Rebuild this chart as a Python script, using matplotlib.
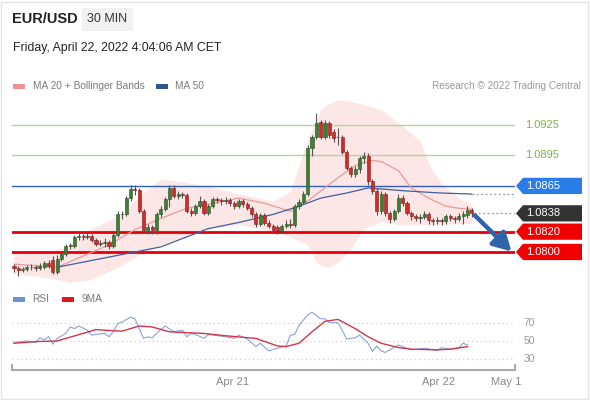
import matplotlib
matplotlib.use("Agg")
import matplotlib.pyplot as plt
from matplotlib.patches import Polygon, Rectangle
import numpy as np

plt.rcParams['font.family'] = ['Liberation Sans', 'DejaVu Sans']

# --- candles (30 min EUR/USD) ---
opens = [1.0786, 1.0784, 1.0782, 1.0783, 1.0785, 1.0785, 1.0784, 1.0785, 1.0789, 1.0792,
         1.0780, 1.0793, 1.0798, 1.0806, 1.0806, 1.0815, 1.0816, 1.0815, 1.0816, 1.0812,
         1.0808, 1.0809, 1.0810, 1.0806, 1.0817, 1.0837, 1.0837, 1.0853, 1.0862, 1.0861,
         1.0840, 1.0822, 1.0825, 1.0822, 1.0837, 1.0842, 1.0852, 1.0863, 1.0855, 1.0857,
         1.0856, 1.0840, 1.0838, 1.0845, 1.0850, 1.0838, 1.0845, 1.0852, 1.0851, 1.0850,
         1.0851, 1.0848, 1.0845, 1.0850, 1.0847, 1.0843, 1.0837, 1.0828, 1.0836, 1.0829,
         1.0826, 1.0825, 1.0821, 1.0826, 1.0828, 1.0827, 1.0845, 1.0849, 1.0857, 1.0902,
         1.0913, 1.0928, 1.0913, 1.0927, 1.0918, 1.0913, 1.0913, 1.0898, 1.0883, 1.0877,
         1.0882, 1.0892, 1.0894, 1.0870, 1.0860, 1.0840, 1.0857, 1.0838, 1.0832, 1.0840,
         1.0853, 1.0848, 1.0838, 1.0835, 1.0833, 1.0834, 1.0837, 1.0831, 1.0830, 1.0831,
         1.0830, 1.0835, 1.0833, 1.0832, 1.0835, 1.0836, 1.0841]
closes = [1.0784, 1.0782, 1.0783, 1.0785, 1.0785, 1.0784, 1.0786, 1.0789, 1.0786, 1.0780,
          1.0793, 1.0798, 1.0806, 1.0806, 1.0815, 1.0816, 1.0815, 1.0816, 1.0812, 1.0808,
          1.0809, 1.0810, 1.0806, 1.0817, 1.0837, 1.0837, 1.0853, 1.0862, 1.0861, 1.0840,
          1.0822, 1.0825, 1.0822, 1.0837, 1.0842, 1.0852, 1.0863, 1.0855, 1.0857, 1.0856,
          1.0840, 1.0838, 1.0845, 1.0850, 1.0838, 1.0845, 1.0852, 1.0851, 1.0850, 1.0851,
          1.0848, 1.0845, 1.0850, 1.0847, 1.0843, 1.0837, 1.0828, 1.0836, 1.0829, 1.0826,
          1.0822, 1.0821, 1.0826, 1.0828, 1.0827, 1.0845, 1.0849, 1.0857, 1.0902, 1.0913,
          1.0927, 1.0913, 1.0927, 1.0915, 1.0912, 1.0913, 1.0898, 1.0883, 1.0877, 1.0882,
          1.0892, 1.0894, 1.0870, 1.0860, 1.0840, 1.0857, 1.0838, 1.0832, 1.0840, 1.0853,
          1.0848, 1.0838, 1.0835, 1.0833, 1.0834, 1.0837, 1.0831, 1.0830, 1.0831, 1.0830,
          1.0835, 1.0833, 1.0832, 1.0835, 1.0837, 1.0841, 1.0838]
highs = [1.0788, 1.0786, 1.0785, 1.0787, 1.0788, 1.0787, 1.0789, 1.0791, 1.0792, 1.0796,
         1.0797, 1.0800, 1.0808, 1.0809, 1.0817, 1.0820, 1.0818, 1.0819, 1.0818, 1.0814,
         1.0812, 1.0814, 1.0812, 1.0819, 1.0840, 1.0840, 1.0855, 1.0866, 1.0866, 1.0863,
         1.0842, 1.0828, 1.0827, 1.0839, 1.0845, 1.0854, 1.0866, 1.0866, 1.0860, 1.0859,
         1.0858, 1.0843, 1.0847, 1.0855, 1.0852, 1.0847, 1.0854, 1.0854, 1.0853, 1.0854,
         1.0853, 1.0850, 1.0852, 1.0852, 1.0849, 1.0845, 1.0839, 1.0838, 1.0838, 1.0831,
         1.0828, 1.0827, 1.0828, 1.0831, 1.0832, 1.0847, 1.0852, 1.0860, 1.0905, 1.0915,
         1.0937, 1.0930, 1.0930, 1.0929, 1.0921, 1.0922, 1.0915, 1.0900, 1.0885, 1.0885,
         1.0894, 1.0898, 1.0897, 1.0872, 1.0863, 1.0860, 1.0859, 1.0840, 1.0842, 1.0857,
         1.0856, 1.0850, 1.0840, 1.0837, 1.0837, 1.0840, 1.0839, 1.0833, 1.0834, 1.0833,
         1.0837, 1.0837, 1.0835, 1.0838, 1.0840, 1.0845, 1.0843]
lows = [1.0780, 1.0776, 1.0780, 1.0781, 1.0782, 1.0781, 1.0782, 1.0783, 1.0784, 1.0778,
        1.0778, 1.0791, 1.0796, 1.0803, 1.0804, 1.0812, 1.0812, 1.0813, 1.0810, 1.0806,
        1.0806, 1.0805, 1.0803, 1.0804, 1.0815, 1.0832, 1.0835, 1.0850, 1.0856, 1.0838,
        1.0820, 1.0818, 1.0818, 1.0818, 1.0834, 1.0840, 1.0844, 1.0853, 1.0852, 1.0853,
        1.0838, 1.0835, 1.0836, 1.0843, 1.0836, 1.0836, 1.0843, 1.0848, 1.0846, 1.0847,
        1.0845, 1.0842, 1.0843, 1.0844, 1.0841, 1.0834, 1.0825, 1.0826, 1.0827, 1.0824,
        1.0819, 1.0818, 1.0819, 1.0824, 1.0824, 1.0825, 1.0842, 1.0847, 1.0855, 1.0894,
        1.0911, 1.0911, 1.0911, 1.0912, 1.0908, 1.0905, 1.0896, 1.0881, 1.0874, 1.0874,
        1.0878, 1.0888, 1.0866, 1.0857, 1.0836, 1.0837, 1.0835, 1.0829, 1.0830, 1.0838,
        1.0845, 1.0836, 1.0831, 1.0830, 1.0829, 1.0832, 1.0828, 1.0827, 1.0828, 1.0827,
        1.0828, 1.0830, 1.0829, 1.0830, 1.0828, 1.0833, 1.0834]

# --- indicators, sampled at candle indices ---
bb_idx = [0, 6, 11, 13, 18, 25, 29, 34, 45, 52, 60, 64, 68, 70, 71, 73, 75, 78, 79, 81, 85, 89, 94, 96, 99, 103, 106]
bb_upper = [1.0798, 1.0800, 1.0803, 1.0808, 1.0823, 1.0837, 1.0855, 1.0872, 1.0865, 1.0857, 1.0850, 1.0860,
            1.0910, 1.0930, 1.0940, 1.0946, 1.0950, 1.0948, 1.0947, 1.0945, 1.0940, 1.0927, 1.0910,
            1.0887, 1.0867, 1.0853, 1.0847]
bb_lower = [1.0778, 1.0776, 1.0772, 1.0770, 1.0773, 1.0787, 1.0797, 1.0807, 1.0823, 1.0827, 1.0820, 1.0815,
            1.0807, 1.0790, 1.0787, 1.0785, 1.0790, 1.0803, 1.0810, 1.0823, 1.0830, 1.0827, 1.0827,
            1.0827, 1.0827, 1.0828, 1.0828]

ma20_idx = [0, 10, 22, 28, 34, 40, 45, 52, 58, 64, 68, 71, 75, 79, 83, 85, 89, 92, 96, 100, 103, 106]
ma20 = [1.0788, 1.0785, 1.0807, 1.0822, 1.0833, 1.0843, 1.0847, 1.0853, 1.0848, 1.0840, 1.0850, 1.0860,
        1.0873, 1.0885, 1.0890, 1.0889, 1.0880, 1.0863, 1.0853, 1.0845, 1.0843, 1.0842]

ma50_idx = [10, 22, 34, 45, 52, 60, 66, 71, 77, 82, 85, 91, 99, 106]
ma50 = [1.0785, 1.0795, 1.0805, 1.0823, 1.0829, 1.0837, 1.0845, 1.0853, 1.0858, 1.0863, 1.0862, 1.0860,
        1.0858, 1.0857]

rsi_idx = [0, 3, 5, 6, 7, 8, 9, 10, 12, 13, 14, 15, 17, 18, 19, 21, 22, 23, 24, 25, 27, 28, 29, 30, 31, 32,
           33, 35, 37, 39, 40, 41, 42, 44, 45, 47, 49, 51, 52, 54, 56, 57, 59, 61, 63, 64, 65, 66, 68, 69,
           71, 72, 73, 75, 76, 77, 79, 80, 82, 83, 84, 85, 86, 89, 91, 92, 95, 98, 99, 101, 103, 104, 105]
rsi = [48.5, 50, 48.5, 53.6, 51, 55, 46.4, 52.9, 58.4, 65.6, 63.8, 66.7, 62, 56.5, 57.3, 58.4, 54.7, 60.2,
       69.3, 71, 76.5, 74.7, 63.8, 52.9, 54.7, 53.6, 58.4, 66.7, 60.2, 62, 54.7, 58.4, 57.3, 52.9, 57.3,
       56, 54.7, 52.9, 56.5, 52.2, 43.8, 47.5, 39, 42, 44.5, 56.5, 57.3, 67.5, 79, 82, 74.7, 74.7, 70.4,
       70.4, 62, 52.2, 53.6, 56.5, 47.5, 38.4, 44.5, 39, 37.3, 45.6, 42, 40.2, 42, 39.5, 42.7, 40.9, 42.7,
       47.5, 45.6]
ma9_idx = [0, 5, 10, 12, 16, 19, 21, 25, 29, 32, 36, 44, 49, 56, 61, 63, 66, 69, 72, 75, 79, 82, 85, 89,
           92, 98, 101, 105]
ma9 = [47.5, 49.3, 50, 52.9, 58.4, 62.7, 62, 60.9, 66.7, 65.6, 60.2, 58.4, 55.8, 52.9, 44.5, 43.8, 47.5,
       60.2, 71.8, 74, 63.8, 54.7, 47.5, 42.7, 40.9, 40.2, 40.9, 43.8]

levels_green = [1.0925, 1.0895]
level_blue = 1.0865
levels_red = [1.0820, 1.0800]
last_price = 1.0838
date_pos = [50.7, 98.4, 114]
date_labels = ["Apr 21", "Apr 22", "May 1"]
rsi_grid = [70, 50, 30]

W, H = 590, 400
PMIN, PMAX = 1.07675, 1.09594
fig = plt.figure(figsize=(W / 100, H / 100), dpi=100)


def fr(x0, y0, x1, y1):
    # pixel box (top-left origin) -> figure fraction rect
    return [x0 / W, 1 - y1 / H, (x1 - x0) / W, (y1 - y0) / H]


fig.patches.append(Rectangle((1 / W, 1 / H), 587 / W, 397 / H, transform=fig.transFigure,
                             fill=False, ec="#e4e4e4", lw=1))

# header
fig.text(12 / W, 1 - 19 / H, "EUR/USD", fontsize=10.5, fontweight="bold", color="#222", va="center")
fig.patches.append(Rectangle((82 / W, 1 - 31 / H), 51 / W, 23 / H, transform=fig.transFigure,
                             fc="#f1f1f1", ec="none"))
fig.text(107 / W, 1 - 19 / H, "30 MIN", fontsize=9, color="#333", va="center", ha="center")
fig.text(13 / W, 1 - 48 / H, "Friday, April 22, 2022 4:04:06 AM CET", fontsize=8.8, color="#222", va="center")

# legends
fig.patches.append(Rectangle((13 / W, 1 - 88.5 / H), 12 / W, 5 / H, transform=fig.transFigure, fc="#f09090", ec="none"))
fig.text(33 / W, 1 - 86 / H, "MA 20 + Bollinger Bands", fontsize=7.3, color="#7a7a7a", va="center")
fig.patches.append(Rectangle((156 / W, 1 - 88.5 / H), 12 / W, 5 / H, transform=fig.transFigure, fc="#2f5597", ec="none"))
fig.text(175 / W, 1 - 86 / H, "MA 50", fontsize=7.3, color="#7a7a7a", va="center")
fig.text(581 / W, 1 - 86 / H, "Research \u00a9 2022 Trading Central", fontsize=7.2, color="#999", va="center", ha="right")

fig.patches.append(Rectangle((13 / W, 1 - 301.5 / H), 12 / W, 5 / H, transform=fig.transFigure, fc="#6f8fd6", ec="none"))
fig.text(32 / W, 1 - 299 / H, "RSI", fontsize=7.3, color="#7a7a7a", va="center")
fig.patches.append(Rectangle((62 / W, 1 - 301.5 / H), 12 / W, 5 / H, transform=fig.transFigure, fc="#e01818", ec="none"))
fig.text(81 / W, 1 - 299 / H, "9MA", fontsize=7.3, color="#7a7a7a", va="center")

# --- price panel ---
ax = fig.add_axes(fr(12, 90, 515, 285))
ax.set_xlim(-0.46, 116)
ax.set_ylim(PMIN, PMAX)
ax.axis("off")

ax.fill_between(bb_idx, bb_lower, bb_upper, color="#fbdede", alpha=0.75, lw=0, zorder=1)

for lv in levels_green:
    ax.axhline(lv, color="#b9d395", lw=1, zorder=2)
ax.axhline(level_blue, color="#2f62b8", lw=1, zorder=2)
for lv in levels_red:
    ax.axhline(lv, color="#e3000b", lw=2, zorder=2)

ax.plot(ma20_idx, ma20, color="#e89a9a", lw=0.9, zorder=3)
ax.plot(ma50_idx, ma50, color="#3f5fa8", lw=0.9, zorder=3)
ax.plot([ma50_idx[-1], 116], [ma50[-1], ma50[-1]], color="#999", lw=0.9, ls=(0, (1.5, 2)), zorder=3)
ax.plot([len(closes) - 0.5, 116], [last_price, last_price], color="#999", lw=0.9, ls=(0, (1.5, 2)), zorder=3)

xs = np.arange(len(closes))
o = np.array(opens)
c = np.array(closes)
up = c >= o
body = np.where(np.abs(c - o) < 0.00006, 0.00006, c - o)
ax.vlines(xs, lows, highs, color="#555", lw=0.8, zorder=4)
ax.bar(xs[up], body[up], bottom=o[up], width=0.72, color="#3d7f33", ec="#24501f", lw=0.4, zorder=5)
ax.bar(xs[~up], body[~up], bottom=o[~up], width=0.72, color="#d42a2a", ec="#7a1a1a", lw=0.4, zorder=5)

ax.annotate("", xy=(115.2, 1.08005), xytext=(106.7, 1.0836),
            arrowprops=dict(arrowstyle="-|>,head_width=0.5,head_length=0.9", color="#2f64a8",
                            lw=3.2, mutation_scale=12, shrinkA=0, shrinkB=0), zorder=6)

# --- right price tags ---
axr = fig.add_axes(fr(515, 90, 590, 285))
axr.set_xlim(515, 590)
axr.set_ylim(PMIN, PMAX)
axr.axis("off")
for lv in levels_green:
    axr.text(525, lv, f"{lv:.4f}", color="#7cb342", fontsize=8, va="center", ha="left")
tags = [(level_blue, "#2a7de8"), (last_price, "#333333"), (levels_red[0], "#f20000"), (levels_red[1], "#f20000")]
for lv, col in tags:
    hh = 0.0008
    axr.add_patch(Polygon([(516, lv), (523, lv + hh), (582, lv + hh), (582, lv - hh), (523, lv - hh)],
                          closed=True, fc=col, ec="none"))
    axr.text(526, lv, f"{lv:.4f}", color="white", fontsize=8, va="center", ha="left")

# --- RSI panel ---
ax2 = fig.add_axes(fr(12, 303, 515, 370))
ax2.set_xlim(-0.46, 116)
ax2.set_ylim(17.8, 92.2)
for s in ["top", "left", "right"]:
    ax2.spines[s].set_visible(False)
ax2.spines["bottom"].set_color("#aaaaaa")
ax2.spines["bottom"].set_linewidth(1.5)
for g in rsi_grid:
    ax2.axhline(g, color="#cccccc", lw=0.9, ls=(0, (1, 2.5)))
    ax2.text(118, g, str(g), color="#999", fontsize=7.5, va="center", ha="left", clip_on=False)
ax2.plot(rsi_idx, rsi, color="#8aa2dc", lw=0.8)
ax2.plot(ma9_idx, ma9, color="#d2354a", lw=1.0)
for xe in [-0.46, 116]:
    ax2.plot([xe, xe], [0, 0.08], color="#aaaaaa", lw=1.5, transform=ax2.get_xaxis_transform(), clip_on=False)
ax2.set_yticks([])
ax2.set_xticks(date_pos)
ax2.set_xticklabels(date_labels, color="#888", fontsize=8)
ax2.tick_params(axis="x", length=0, pad=5)

fig.savefig("out.png", dpi=100)
